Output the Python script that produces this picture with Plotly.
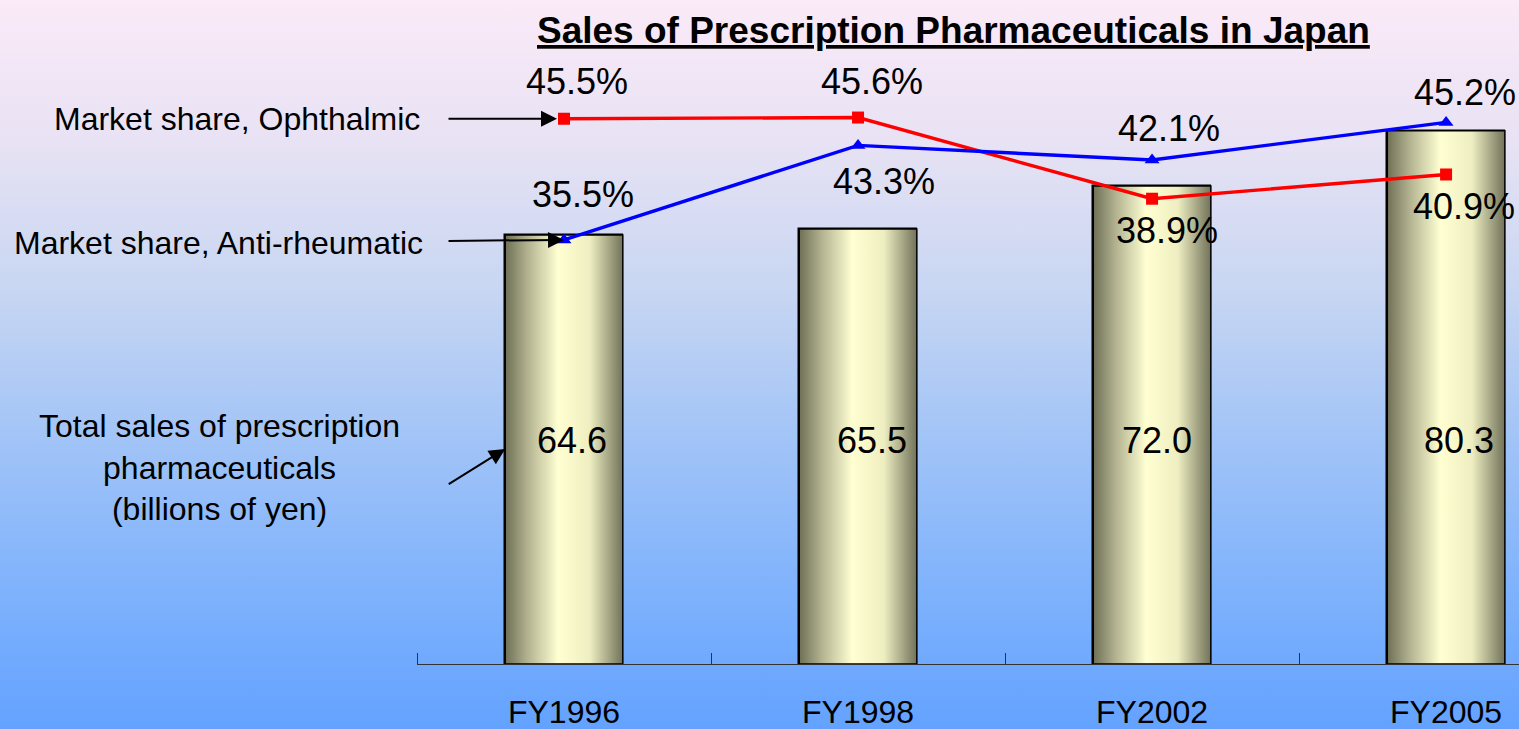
import base64
import plotly.graph_objects as go

# ---------------- data ----------------
years = ["FY1996", "FY1998", "FY2002", "FY2005"]
total_sales = [64.6, 65.5, 72.0, 80.3]            # billions of yen
share_ophthalmic = [45.5, 45.6, 38.9, 40.9]       # %
share_antirheumatic = [35.5, 43.3, 42.1, 45.2]    # %

# ---------------- style ----------------
FONT = "Liberation Sans, Arial, sans-serif"
W, H = 1519, 729
ML, MR, MT, MB = 417, 0, 0, 65
PW, PH = W - ML - MR, H - MT - MB
BAR_W = 0.40
oph_shift = [(13, 37), (14, 36), (15, -32), (18, -32)]
anti_shift = [(19, 45), (26, -36), (17, 31), (19, 30)]
sales_xshift = [8, 14, 5, 13]
sales_label_y = 33.6


def px_x(p):
    return (p - ML) / PW


def px_y(p):
    return 1 - (p - MT) / PH


xs = list(range(len(years)))

fig = go.Figure()

# semantic bar trace (outline)
fig.add_trace(go.Bar(x=xs, y=total_sales, width=BAR_W,
                     marker=dict(color="rgba(0,0,0,0)", line=dict(color="black", width=1.5)),
                     hoverinfo="skip", showlegend=False))

# cylindrical-gradient bars
bar_scale = [[0, "#6E6F55"], [0.18, "#AFAF8E"], [0.45, "#FFFFD2"],
             [0.72, "#EEEEC2"], [1, "#717259"]]
for xi, v in zip(xs, total_sales):
    x0, x1 = xi - BAR_W / 2, xi + BAR_W / 2
    fig.add_trace(go.Scatter(x=[x0, x1, x1, x0, x0], y=[0, 0, v, v, 0],
                             mode="lines", fill="toself",
                             fillgradient=dict(type="horizontal", colorscale=bar_scale),
                             line=dict(color="black", width=1.5),
                             hoverinfo="skip", showlegend=False))

# lines
fig.add_trace(go.Scatter(x=xs, y=share_ophthalmic, yaxis="y2", mode="lines+markers",
                         line=dict(color="#FF0000", width=3.4),
                         marker=dict(symbol="square", size=12, color="#FF0000"),
                         showlegend=False))
fig.add_trace(go.Scatter(x=xs, y=share_antirheumatic, yaxis="y2", mode="lines+markers",
                         line=dict(color="#0000FF", width=3.4),
                         marker=dict(symbol="triangle-up", size=13, color="#0000FF"),
                         showlegend=False))

ann = []
for xi, v, (dx, dy) in zip(xs, share_ophthalmic, oph_shift):
    ann.append(dict(x=xi, y=v, xref="x", yref="y2", text=f"{v:.1f}%", showarrow=False,
                    xshift=dx, yshift=dy, font=dict(family=FONT, size=36, color="black")))
for xi, v, (dx, dy) in zip(xs, share_antirheumatic, anti_shift):
    ann.append(dict(x=xi, y=v, xref="x", yref="y2", text=f"{v:.1f}%", showarrow=False,
                    xshift=dx, yshift=dy, font=dict(family=FONT, size=36, color="black")))
for xi, v, dx in zip(xs, total_sales, sales_xshift):
    ann.append(dict(x=xi, y=sales_label_y, xref="x", yref="y", text=f"{v:.1f}", showarrow=False,
                    xshift=dx, font=dict(family=FONT, size=36, color="black")))

# title
ann.append(dict(x=px_x(953), y=px_y(30), xref="paper", yref="paper",
                text="<b><u>Sales of Prescription Pharmaceuticals in Japan</u></b>",
                showarrow=False, xanchor="center", yanchor="middle",
                font=dict(family=FONT, size=37, color="black")))

# left labels
ann.append(dict(x=px_x(422), y=px_y(119), xref="paper", yref="paper",
                text="Market share, Ophthalmic", showarrow=False,
                xanchor="right", yanchor="middle", font=dict(family=FONT, size=32, color="black")))
ann.append(dict(x=px_x(425), y=px_y(243), xref="paper", yref="paper",
                text="Market share, Anti-rheumatic", showarrow=False,
                xanchor="right", yanchor="middle", font=dict(family=FONT, size=32, color="black")))
ann.append(dict(x=px_x(219), y=px_y(467), xref="paper", yref="paper",
                text="Total sales of prescription<br>pharmaceuticals<br>(billions of yen)",
                showarrow=False, align="center",
                xanchor="center", yanchor="middle", font=dict(family=FONT, size=32, color="black")))

# arrows
arrow_style = dict(showarrow=True, text="", arrowhead=2, arrowsize=1.6, arrowwidth=2,
                   arrowcolor="black")
ann.append(dict(x=0, y=share_ophthalmic[0], xref="x", yref="y2", ax=-117, ay=0,
                standoff=7, **arrow_style))
ann.append(dict(x=0, y=share_antirheumatic[0], xref="x", yref="y2", ax=-117, ay=1,
                standoff=0, **arrow_style))
ann.append(dict(x=-BAR_W / 2, y=px_y(449), xref="x", yref="paper", ax=-58, ay=36,
                standoff=0, **arrow_style))

# gradient background
svg = ('<svg xmlns="http://www.w3.org/2000/svg" width="1519" height="729" '
       'preserveAspectRatio="none" viewBox="0 0 1519 729">'
       '<defs><linearGradient id="g" x1="0" y1="0" x2="0" y2="1">'
       '<stop offset="0" stop-color="#FBEAF8"/>'
       '<stop offset="0.2" stop-color="#E7E2F4"/>'
       '<stop offset="0.4" stop-color="#C7D6F2"/>'
       '<stop offset="0.6" stop-color="#A2C4F7"/>'
       '<stop offset="0.8" stop-color="#80B3FC"/>'
       '<stop offset="1" stop-color="#63A2FF"/>'
       '</linearGradient></defs>'
       '<rect x="0" y="0" width="1519" height="729" fill="url(#g)"/></svg>')
src = "data:image/svg+xml;base64," + base64.b64encode(svg.encode()).decode()

fig.update_layout(
    width=W, height=H, autosize=False,
    margin=dict(l=ML, r=MR, t=MT, b=MB, pad=0, autoexpand=False),
    paper_bgcolor="#8DBBFA",
    plot_bgcolor="rgba(0,0,0,0)",
    showlegend=False,
    annotations=ann,
    images=[dict(source=src, xref="paper", yref="paper", x=-ML / PW, y=1 + MT / PH,
                 sizex=W / PW, sizey=H / PH, xanchor="left", yanchor="top",
                 sizing="stretch", layer="below", opacity=1)],
    xaxis=dict(range=[-0.5, 3.248], tickvals=xs, ticktext=years, ticks="",
               showline=True, linecolor="#333333", linewidth=1, showgrid=False,
               zeroline=False, ticklabelstandoff=20, automargin=False,
               tickfont=dict(family=FONT, size=32, color="black"),
               minor=dict(tickvals=[-0.5, 0.5, 1.5, 2.5], ticks="inside", ticklen=11,
                          tickcolor="#333333", tickwidth=1, showgrid=False)),
    yaxis=dict(range=[0, 100], visible=False, showgrid=False, zeroline=False,
               automargin=False),
    yaxis2=dict(range=[0.5, 55.3], overlaying="y", visible=False, showgrid=False,
                zeroline=False, automargin=False),
    bargap=0,
)

fig.write_html("out.html",
               config={"displayModeBar": False},
               post_script="document.body.style.margin='0';"
                           "document.body.style.padding='0';"
                           "document.body.style.overflow='hidden';")
